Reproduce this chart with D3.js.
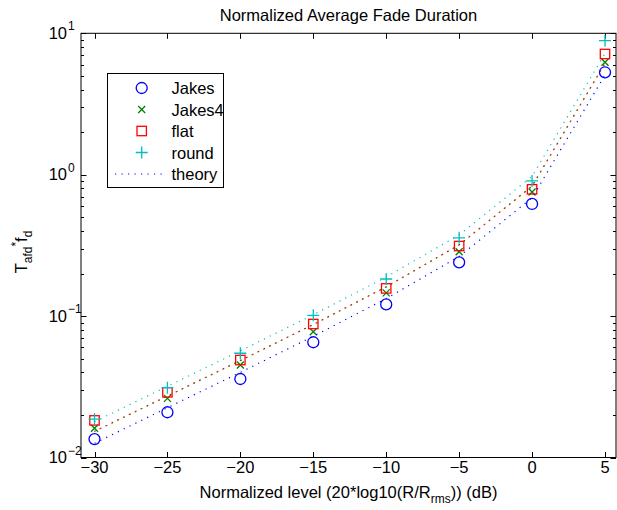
<!DOCTYPE html>
<html>
<head>
<meta charset="utf-8">
<script src="https://cdn.jsdelivr.net/npm/d3@7"></script>
<style>
  html, body { margin: 0; padding: 0; background: #fff; }
  svg { display: block; }
  text { font-family: "Liberation Sans", Arial, Helvetica, sans-serif; fill: #000; }
</style>
</head>
<body>
<svg id="chart" width="617" height="510"></svg>
<script>
// ---------------- data ----------------
const levels = [-30, -25, -20, -15, -10, -5, 0, 5];
const jakes  = [0.0135, 0.0209, 0.0359, 0.0653, 0.121, 0.240, 0.621, 5.30];
const jakes4 = [0.0161, 0.0262, 0.0451, 0.0776, 0.146, 0.285, 0.755, 6.24];
const flat   = [0.0183, 0.0289, 0.0489, 0.0879, 0.157, 0.313, 0.788, 7.14];
const round  = [0.0187, 0.0312, 0.0546, 0.1013, 0.183, 0.358, 0.903, 8.87];

const theoryJakes  = [0.0126, 0.0225, 0.0400, 0.0720, 0.133, 0.264, 0.686, 5.07];
const theoryJakes4 = [0.0153, 0.0272, 0.0485, 0.0872, 0.161, 0.319, 0.830, 6.13];
const theoryFlat   = [0.0153, 0.0272, 0.0485, 0.0872, 0.161, 0.319, 0.830, 6.13];
const theoryRound  = [0.0179, 0.0319, 0.0568, 0.1023, 0.189, 0.375, 0.974, 7.20];

const xTicks = [-30, -25, -20, -15, -10, -5, 0, 5];
const yMajor = [0.01, 0.1, 1, 10];
const yExp   = ["\u22122", "\u22121", "0", "1"];
const legendLabels = ["Jakes", "Jakes4", "flat", "round", "theory"];

const titleText = "Normalized Average Fade Duration";

// ---------------- layout ----------------
const box = {left: 81, right: 616, top: 33.3, bottom: 457.5};
const svg = d3.select("#chart");

const x = d3.scaleLinear().domain([-30, 5]).range([94.5, 605]);
const y = d3.scaleLog().domain([0.01, 10]).range([box.bottom, box.top]);

const colors = {blue: "#0000ff", green: "#008000", red: "#ff0000", cyan: "#00bfbf"};

svg.append("rect").attr("width", 617).attr("height", 510).attr("fill", "#fff");

svg.append("rect")
  .attr("x", box.left).attr("y", box.top)
  .attr("width", box.right - box.left).attr("height", box.bottom - box.top)
  .attr("fill", "none").attr("stroke", "#000").attr("stroke-width", 1);

const ticks = svg.append("g").attr("stroke", "#000").attr("stroke-width", 1);
const majLen = 5.5, minLen = 3;
xTicks.forEach(v => {
  const px = Math.round(x(v)) + 0.5;
  ticks.append("line").attr("x1", px).attr("x2", px).attr("y1", box.bottom).attr("y2", box.bottom - majLen);
  ticks.append("line").attr("x1", px).attr("x2", px).attr("y1", box.top).attr("y2", box.top + majLen);
});
const yMinor = [];
[-2, -1, 0].forEach(d => { for (let m = 2; m <= 9; m++) yMinor.push(m * Math.pow(10, d)); });
yMajor.forEach(v => {
  const py = Math.round(y(v)) + 0.5;
  ticks.append("line").attr("x1", box.left).attr("x2", box.left + majLen).attr("y1", py).attr("y2", py);
  ticks.append("line").attr("x1", box.right).attr("x2", box.right - majLen).attr("y1", py).attr("y2", py);
});
yMinor.forEach(v => {
  const py = Math.round(y(v)) + 0.5;
  ticks.append("line").attr("x1", box.left).attr("x2", box.left + minLen).attr("y1", py).attr("y2", py);
  ticks.append("line").attr("x1", box.right).attr("x2", box.right - minLen).attr("y1", py).attr("y2", py);
});

const fs = 16.5;
xTicks.forEach(v => {
  svg.append("text").attr("x", x(v)).attr("y", 473)
    .attr("text-anchor", "middle").attr("font-size", fs)
    .text(v < 0 ? "\u2212" + Math.abs(v) : String(v));
});
yMajor.forEach((v, i) => {
  const py = y(v);
  svg.append("text").attr("x", 67).attr("y", py + 5.5)
    .attr("text-anchor", "end").attr("font-size", fs).text("10");
  svg.append("text").attr("x", 68).attr("y", py - 3)
    .attr("text-anchor", "start").attr("font-size", 12).text(yExp[i]);
});

svg.append("text").attr("x", (box.left + box.right) / 2).attr("y", 21)
  .attr("text-anchor", "middle").attr("font-size", fs).text(titleText);

const xl = svg.append("text").attr("x", (box.left + box.right) / 2).attr("y", 498)
  .attr("text-anchor", "middle").attr("font-size", fs);
xl.append("tspan").text("Normalized level (20*log10(R/R");
xl.append("tspan").attr("font-size", 12).attr("dy", 5).text("rms");
xl.append("tspan").attr("dy", -5).text(")) (dB)");

const yl = svg.append("text").attr("transform", "translate(27,252) rotate(-90)")
  .attr("text-anchor", "middle").attr("font-size", fs);
yl.append("tspan").text("T");
yl.append("tspan").attr("font-size", 12).attr("dy", 5).text("afd");
yl.append("tspan").attr("font-size", 12).attr("dy", -12).text("*");
yl.append("tspan").attr("dy", 7).text("f");
yl.append("tspan").attr("font-size", 12).attr("dy", 5).text("d");

// ---------------- marks ----------------
const plot = svg.append("g");

function drawMarker(g, cx, cy, type) {
  if (type === "o") {
    g.append("circle").attr("cx", cx).attr("cy", cy).attr("r", 5.5);
  } else if (type === "x") {
    const s = 3.5;
    g.append("path").attr("d", `M${cx - s},${cy - s}L${cx + s},${cy + s}M${cx - s},${cy + s}L${cx + s},${cy - s}`);
  } else if (type === "s") {
    const s = 4.7;
    g.append("rect").attr("x", cx - s).attr("y", cy - s).attr("width", 2 * s).attr("height", 2 * s);
  } else if (type === "+") {
    const s = 6;
    g.append("path").attr("d", `M${cx - s},${cy}L${cx + s},${cy}M${cx},${cy - s}L${cx},${cy + s}`);
  }
}
function markers(vals, color, type) {
  const g = plot.append("g").attr("stroke", color).attr("fill", "none").attr("stroke-width", 1.3);
  levels.forEach((lv, i) => drawMarker(g, x(lv), y(vals[i]), type));
}

markers(jakes, colors.blue, "o");
markers(jakes4, colors.green, "x");
markers(flat, colors.red, "s");
markers(round, colors.cyan, "+");

const line = d3.line().x(d => x(d[0])).y(d => y(d[1]));
function theory(vals, color, offset) {
  plot.append("path")
    .attr("d", line(levels.map((lv, i) => [lv, vals[i]])))
    .attr("fill", "none").attr("stroke", color).attr("stroke-width", 1.2)
    .attr("stroke-dasharray", "1.2,5.3").attr("stroke-dashoffset", offset);
}
theory(theoryJakes, colors.blue, 0);
theory(theoryJakes4, colors.green, 0);
theory(theoryFlat, colors.red, 0.8);
theory(theoryRound, colors.cyan, 0);

// ---------------- legend ----------------
const lg = svg.append("g");
lg.append("rect").attr("x", 107.5).attr("y", 73.5).attr("width", 116).attr("height", 114)
  .attr("fill", "#fff").attr("stroke", "#000").attr("stroke-width", 1);
const rowY = [88, 109.5, 131, 152.5, 174];
const legTypes = [["o", colors.blue], ["x", colors.green], ["s", colors.red], ["+", colors.cyan]];
legTypes.forEach((t, i) => {
  const g = lg.append("g").attr("stroke", t[1]).attr("fill", "none").attr("stroke-width", 1.3);
  drawMarker(g, 141.7, rowY[i], t[0]);
});
lg.append("line").attr("x1", 115).attr("x2", 163).attr("y1", rowY[4]).attr("y2", rowY[4])
  .attr("stroke", colors.blue).attr("stroke-width", 1.2).attr("stroke-dasharray", "1.2,5.3");
legendLabels.forEach((l, i) => {
  lg.append("text").attr("x", 171.5).attr("y", rowY[i] + 6).attr("font-size", fs).text(l);
});
</script>
</body>
</html>
